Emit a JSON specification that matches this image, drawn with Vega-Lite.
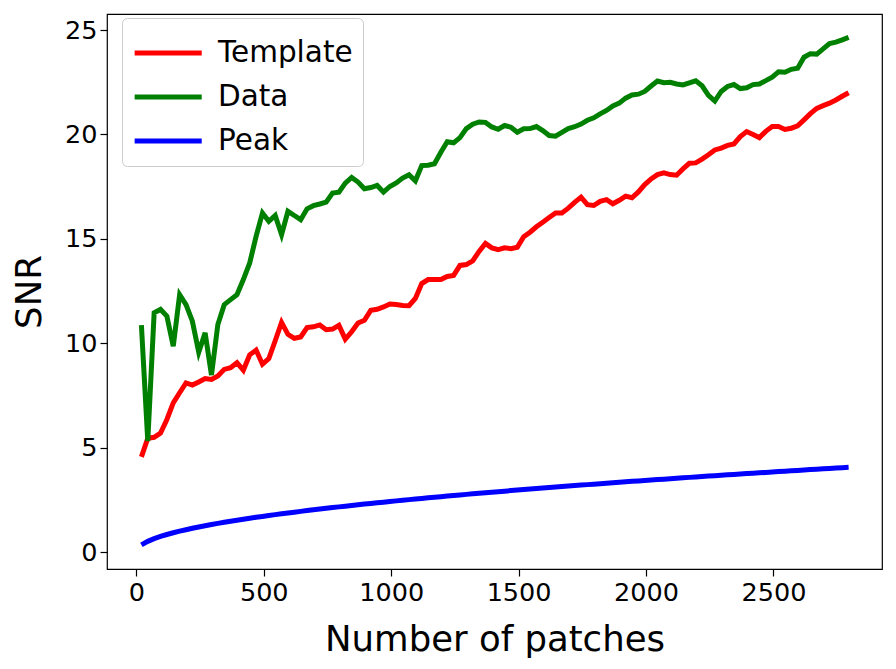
{
  "$schema": "https://vega.github.io/schema/vega-lite/v6.json",
  "width": 775,
  "height": 555,
  "autosize": {"type": "none"},
  "padding": {"left": 107, "top": 14, "right": 14, "bottom": 100},
  "background": "white",
  "config": {
    "font": "DejaVu Sans",
    "view": {"stroke": "#000000", "strokeWidth": 1.2},
    "axis": {
      "grid": false, "domain": false, "tickColor": "#000000", "tickSize": 7, "tickWidth": 1.2,
      "labelFont": "DejaVu Sans", "labelFontSize": 25.5, "labelColor": "#000000", "labelPadding": 4,
      "titleFont": "DejaVu Sans", "titleFontSize": 35.5, "titleFontWeight": "normal", "titleColor": "#000000"
    }
  },
  "data": {"values": [
    {"n":20,"Template":4.56,"Data":10.87,"Peak":0.343},
    {"n":45,"Template":5.45,"Data":5.32,"Peak":0.515},
    {"n":70,"Template":5.5,"Data":11.46,"Peak":0.643},
    {"n":95,"Template":5.7,"Data":11.62,"Peak":0.749},
    {"n":120,"Template":6.35,"Data":11.30,"Peak":0.841},
    {"n":145,"Template":7.15,"Data":9.86,"Peak":0.925},
    {"n":170,"Template":7.63,"Data":12.33,"Peak":1.001},
    {"n":195,"Template":8.1,"Data":11.85,"Peak":1.072},
    {"n":220,"Template":8.0,"Data":11.06,"Peak":1.139},
    {"n":245,"Template":8.15,"Data":9.57,"Peak":1.202},
    {"n":270,"Template":8.31,"Data":10.50,"Peak":1.262},
    {"n":295,"Template":8.27,"Data":8.48,"Peak":1.319},
    {"n":320,"Template":8.43,"Data":10.90,"Peak":1.374},
    {"n":345,"Template":8.75,"Data":11.85,"Peak":1.426},
    {"n":370,"Template":8.83,"Data":12.09,"Peak":1.477},
    {"n":395,"Template":9.07,"Data":12.33,"Peak":1.526},
    {"n":420,"Template":8.71,"Data":13.05,"Peak":1.574},
    {"n":445,"Template":9.45,"Data":13.85,"Peak":1.620},
    {"n":470,"Template":9.67,"Data":15.12,"Peak":1.665},
    {"n":495,"Template":9.0,"Data":16.24,"Peak":1.709},
    {"n":520,"Template":9.27,"Data":15.84,"Peak":1.751},
    {"n":545,"Template":10.12,"Data":16.12,"Peak":1.793},
    {"n":570,"Template":11.0,"Data":15.2,"Peak":1.834},
    {"n":595,"Template":10.43,"Data":16.32,"Peak":1.873},
    {"n":620,"Template":10.24,"Data":16.12,"Peak":1.912},
    {"n":645,"Template":10.3,"Data":15.92,"Peak":1.950},
    {"n":670,"Template":10.75,"Data":16.44,"Peak":1.988},
    {"n":695,"Template":10.79,"Data":16.59,"Peak":2.025},
    {"n":720,"Template":10.88,"Data":16.67,"Peak":2.061},
    {"n":745,"Template":10.65,"Data":16.76,"Peak":2.096},
    {"n":770,"Template":10.68,"Data":17.19,"Peak":2.131},
    {"n":795,"Template":10.86,"Data":17.24,"Peak":2.165},
    {"n":820,"Template":10.2,"Data":17.67,"Peak":2.199},
    {"n":845,"Template":10.55,"Data":17.94,"Peak":2.233},
    {"n":870,"Template":10.97,"Data":17.72,"Peak":2.265},
    {"n":895,"Template":11.1,"Data":17.4,"Peak":2.298},
    {"n":920,"Template":11.58,"Data":17.46,"Peak":2.329},
    {"n":945,"Template":11.63,"Data":17.56,"Peak":2.361},
    {"n":970,"Template":11.74,"Data":17.24,"Peak":2.392},
    {"n":995,"Template":11.88,"Data":17.51,"Peak":2.423},
    {"n":1020,"Template":11.86,"Data":17.68,"Peak":2.453},
    {"n":1045,"Template":11.81,"Data":17.91,"Peak":2.483},
    {"n":1070,"Template":11.8,"Data":18.07,"Peak":2.512},
    {"n":1095,"Template":12.15,"Data":17.78,"Peak":2.541},
    {"n":1120,"Template":12.86,"Data":18.51,"Peak":2.570},
    {"n":1145,"Template":13.05,"Data":18.53,"Peak":2.599},
    {"n":1170,"Template":13.05,"Data":18.6,"Peak":2.627},
    {"n":1195,"Template":13.05,"Data":19.15,"Peak":2.655},
    {"n":1220,"Template":13.2,"Data":19.65,"Peak":2.682},
    {"n":1245,"Template":13.25,"Data":19.6,"Peak":2.710},
    {"n":1270,"Template":13.73,"Data":19.85,"Peak":2.737},
    {"n":1295,"Template":13.77,"Data":20.28,"Peak":2.764},
    {"n":1320,"Template":13.95,"Data":20.49,"Peak":2.790},
    {"n":1345,"Template":14.4,"Data":20.6,"Peak":2.817},
    {"n":1370,"Template":14.78,"Data":20.58,"Peak":2.843},
    {"n":1395,"Template":14.57,"Data":20.36,"Peak":2.868},
    {"n":1420,"Template":14.48,"Data":20.25,"Peak":2.894},
    {"n":1445,"Template":14.57,"Data":20.43,"Peak":2.919},
    {"n":1470,"Template":14.53,"Data":20.35,"Peak":2.945},
    {"n":1495,"Template":14.6,"Data":20.11,"Peak":2.969},
    {"n":1520,"Template":15.1,"Data":20.27,"Peak":2.994},
    {"n":1545,"Template":15.32,"Data":20.28,"Peak":3.019},
    {"n":1570,"Template":15.58,"Data":20.38,"Peak":3.043},
    {"n":1595,"Template":15.8,"Data":20.19,"Peak":3.067},
    {"n":1620,"Template":16.02,"Data":19.95,"Peak":3.091},
    {"n":1645,"Template":16.24,"Data":19.92,"Peak":3.115},
    {"n":1670,"Template":16.24,"Data":20.1,"Peak":3.139},
    {"n":1695,"Template":16.47,"Data":20.28,"Peak":3.162},
    {"n":1720,"Template":16.75,"Data":20.37,"Peak":3.185},
    {"n":1745,"Template":17.0,"Data":20.5,"Peak":3.208},
    {"n":1770,"Template":16.64,"Data":20.68,"Peak":3.231},
    {"n":1795,"Template":16.6,"Data":20.8,"Peak":3.254},
    {"n":1820,"Template":16.8,"Data":20.99,"Peak":3.276},
    {"n":1845,"Template":16.88,"Data":21.15,"Peak":3.299},
    {"n":1870,"Template":16.68,"Data":21.37,"Peak":3.321},
    {"n":1895,"Template":16.85,"Data":21.5,"Peak":3.343},
    {"n":1920,"Template":17.05,"Data":21.74,"Peak":3.365},
    {"n":1945,"Template":16.97,"Data":21.89,"Peak":3.387},
    {"n":1970,"Template":17.25,"Data":21.93,"Peak":3.409},
    {"n":1995,"Template":17.6,"Data":22.06,"Peak":3.430},
    {"n":2020,"Template":17.87,"Data":22.32,"Peak":3.452},
    {"n":2045,"Template":18.08,"Data":22.56,"Peak":3.473},
    {"n":2070,"Template":18.16,"Data":22.48,"Peak":3.494},
    {"n":2095,"Template":18.08,"Data":22.5,"Peak":3.515},
    {"n":2120,"Template":18.05,"Data":22.42,"Peak":3.536},
    {"n":2145,"Template":18.35,"Data":22.37,"Peak":3.557},
    {"n":2170,"Template":18.62,"Data":22.47,"Peak":3.578},
    {"n":2195,"Template":18.64,"Data":22.57,"Peak":3.598},
    {"n":2220,"Template":18.82,"Data":22.33,"Peak":3.619},
    {"n":2245,"Template":19.03,"Data":21.87,"Peak":3.639},
    {"n":2270,"Template":19.26,"Data":21.6,"Peak":3.659},
    {"n":2295,"Template":19.35,"Data":22.06,"Peak":3.679},
    {"n":2320,"Template":19.48,"Data":22.3,"Peak":3.699},
    {"n":2345,"Template":19.55,"Data":22.39,"Peak":3.719},
    {"n":2370,"Template":19.9,"Data":22.2,"Peak":3.739},
    {"n":2395,"Template":20.14,"Data":22.24,"Peak":3.759},
    {"n":2420,"Template":20.0,"Data":22.39,"Peak":3.778},
    {"n":2445,"Template":19.85,"Data":22.42,"Peak":3.798},
    {"n":2470,"Template":20.15,"Data":22.58,"Peak":3.817},
    {"n":2495,"Template":20.38,"Data":22.75,"Peak":3.836},
    {"n":2520,"Template":20.38,"Data":23.0,"Peak":3.855},
    {"n":2545,"Template":20.24,"Data":22.98,"Peak":3.874},
    {"n":2570,"Template":20.3,"Data":23.12,"Peak":3.893},
    {"n":2595,"Template":20.41,"Data":23.17,"Peak":3.912},
    {"n":2620,"Template":20.7,"Data":23.7,"Peak":3.931},
    {"n":2645,"Template":21.0,"Data":23.87,"Peak":3.950},
    {"n":2670,"Template":21.25,"Data":23.85,"Peak":3.968},
    {"n":2695,"Template":21.38,"Data":24.1,"Peak":3.987},
    {"n":2720,"Template":21.5,"Data":24.35,"Peak":4.005},
    {"n":2745,"Template":21.65,"Data":24.42,"Peak":4.024},
    {"n":2770,"Template":21.83,"Data":24.53,"Peak":4.042},
    {"n":2795,"Template":22.0,"Data":24.65,"Peak":4.060}
  ]},
  "transform": [{"fold": ["Template", "Data", "Peak"], "as": ["series", "snr"]}],
  "mark": {"type": "line", "strokeWidth": 5, "clip": true},
  "encoding": {
    "x": {
      "field": "n", "type": "quantitative",
      "scale": {"domain": [-115, 2926], "nice": false, "zero": false},
      "axis": {"values": [0, 500, 1000, 1500, 2000, 2500], "format": "d", "title": "Number of patches", "titlePadding": 17}
    },
    "y": {
      "field": "snr", "type": "quantitative",
      "scale": {"domain": [-0.81, 25.77], "nice": false, "zero": false},
      "axis": {"values": [0, 5, 10, 15, 20, 25], "format": "d", "title": "SNR", "titlePadding": 17, "labelPadding": 3}
    },
    "color": {
      "field": "series", "type": "nominal",
      "scale": {"domain": ["Template", "Data", "Peak"], "range": ["#ff0000", "#008000", "#0000ff"]},
      "legend": {
        "title": null, "orient": "none", "legendX": 15, "legendY": 4,
        "symbolType": "M-1,0H2", "symbolSize": 2000, "symbolStrokeWidth": 5,
        "labelFont": "DejaVu Sans", "labelFontSize": 29.5, "labelColor": "#000000", "labelOffset": 36,
        "padding": 10, "rowPadding": 4,
        "fillColor": "#ffffff", "strokeColor": "#cccccc", "cornerRadius": 5
      }
    }
  }
}
